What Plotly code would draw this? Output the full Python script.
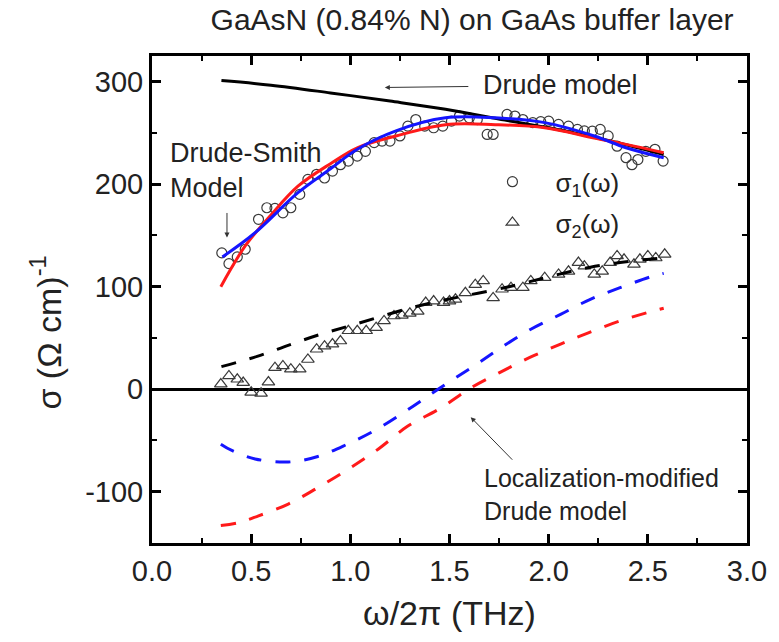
import plotly.graph_objects as go

# ---- data ----
s1_x = [0.352, 0.388, 0.43, 0.47, 0.537, 0.579, 0.62, 0.66, 0.70, 0.745, 0.786, 0.83, 0.87, 0.91,
        0.95, 0.99, 1.035, 1.076, 1.12, 1.16, 1.20, 1.25, 1.29, 1.33, 1.375, 1.42, 1.466, 1.51,
        1.55, 1.60, 1.64, 1.69, 1.72, 1.79, 1.83, 1.87, 1.92, 1.96, 2.00, 2.05, 2.10, 2.145, 2.18,
        2.22, 2.26, 2.30, 2.345, 2.39, 2.42, 2.45, 2.49, 2.536, 2.577]
s1_y = [133, 122.5, 129, 136.5, 165.7, 177, 176.4, 172, 177, 190, 204.7, 209.6, 206, 212.8,
        219, 222.5, 227.4, 232, 240.5, 242, 242, 247, 256.6, 263, 256.6, 255, 256.6, 261.5,
        266.4, 264.7, 263, 248.5, 248.5, 268, 266.4, 263, 260, 261, 261.5, 258.3, 256.6, 253.4, 252,
        251.7, 253.4, 247, 237, 225.8, 219, 224, 232, 234, 222.5]

s2_x = [0.347, 0.388, 0.43, 0.46, 0.50, 0.55, 0.587, 0.62, 0.66, 0.70, 0.745, 0.786, 0.83, 0.87,
        0.91, 0.95, 0.99, 1.035, 1.08, 1.13, 1.17, 1.22, 1.26, 1.30, 1.34, 1.38, 1.42, 1.47, 1.50,
        1.53, 1.58, 1.63, 1.67, 1.72, 1.765, 1.81, 1.87, 1.91, 1.98, 2.05, 2.10, 2.15, 2.18, 2.23,
        2.27, 2.31, 2.345, 2.38, 2.43, 2.46, 2.50, 2.54, 2.585]
s2_y = [5, 13, 9.7, 6.5, -3, -4, 7, 21, 22.7, 19.5, 19.5, 29, 39, 42,
        44, 47, 57, 57, 57, 60, 66.6, 71.4, 72, 74, 76, 84.5, 86, 84.5, 86,
        87.7, 94, 102, 105.6, 89, 97.5, 99, 99, 105.6, 108.8, 112, 115, 123.5, 120, 112,
        115, 123.5, 130, 126.7, 121.8, 126.7, 130, 128, 131.6]

drude1_x = [0.35, 0.6, 0.9, 1.2, 1.48, 1.78, 2.0, 2.2, 2.4, 2.58]
drude1_y = [301, 296.5, 289, 281, 273, 262.5, 255, 247, 238, 229]

drude2_x = [0.35, 0.53, 0.69, 0.84, 1.0, 1.28, 1.45, 1.8, 2.05, 2.21, 2.36, 2.52, 2.58]
drude2_y = [22, 32, 43, 53, 62, 78, 86, 100, 112, 119, 123.5, 127, 128]

blue1_x = [0.355, 0.52, 0.736, 0.9, 1.035, 1.23, 1.48, 1.73, 1.98, 2.23, 2.39, 2.58]
blue1_y = [129, 152.7, 191.7, 215, 234, 252, 264.7, 264.7, 260, 247, 235.5, 225.8]

red1_x = [0.347, 0.47, 0.6, 0.736, 0.9, 1.035, 1.23, 1.48, 1.73, 1.98, 2.23, 2.39, 2.58]
red1_y = [100, 139.7, 170, 198, 220, 235.5, 247, 258, 258, 255, 245, 238.8, 230.7]

blue2_x = [0.347, 0.405, 0.52, 0.687, 0.836, 0.985, 1.134, 1.29, 1.45, 1.61, 1.76, 1.91, 2.06, 2.21, 2.36, 2.52, 2.58]
blue2_y = [-53.6, -60, -68, -71, -65.6, -53.6, -39, -20, 1, 21, 40.6, 58.5, 73, 87.7, 99, 110, 113]

red2_x = [0.347, 0.44, 0.537, 0.687, 0.836, 0.99, 1.14, 1.29, 1.45, 1.61, 1.75, 1.905, 2.06, 2.20, 2.36, 2.52, 2.58]
red2_y = [-133, -130, -123.5, -112, -96, -78, -58.5, -36, -19, 1.6, 16, 31, 44, 55, 66.6, 76, 79]

y_tickvals = [-100, 0, 100, 200, 300]
y_ticktext = ["-100", "0", "100", "200", "300"]

FONT = "Liberation Sans, Arial, sans-serif"
BLUE = "#1515ff"
RED = "#ff1a1a"
DASH = "15px,14px"

fig = go.Figure()
fig.add_trace(go.Scatter(x=s1_x, y=s1_y, mode="markers", name="σ<sub>1</sub>(ω)",
                         legendgroup="a",
                         marker=dict(symbol="circle-open", size=10, color="#3a3a3a", line=dict(width=1.2))))
fig.add_trace(go.Scatter(x=s2_x, y=s2_y, mode="markers", name="σ<sub>2</sub>(ω)",
                         legendgroup="b",
                         marker=dict(symbol="triangle-up-open", size=11, color="#3a3a3a", line=dict(width=1.2))))
fig.add_trace(go.Scatter(x=drude1_x, y=drude1_y, mode="lines", showlegend=False, line_shape="spline",
                         line=dict(color="black", width=3)))
fig.add_trace(go.Scatter(x=drude2_x, y=drude2_y, mode="lines", showlegend=False, line_shape="spline",
                         line=dict(color="black", width=3, dash=DASH)))
fig.add_trace(go.Scatter(x=red1_x, y=red1_y, mode="lines", showlegend=False, line_shape="spline",
                         line=dict(color=RED, width=3)))
fig.add_trace(go.Scatter(x=red2_x, y=red2_y, mode="lines", showlegend=False, line_shape="spline",
                         line=dict(color=RED, width=3, dash=DASH)))
fig.add_trace(go.Scatter(x=blue1_x, y=blue1_y, mode="lines", showlegend=False, line_shape="spline",
                         line=dict(color=BLUE, width=3)))
fig.add_trace(go.Scatter(x=blue2_x, y=blue2_y, mode="lines", showlegend=False, line_shape="spline",
                         line=dict(color=BLUE, width=3, dash=DASH)))

axis_common = dict(showline=True, linewidth=3, linecolor="black", mirror="ticks",
                   ticks="inside", ticklen=9, tickwidth=2.5, tickcolor="black",
                   showgrid=False, tickfont=dict(family=FONT, size=29, color="#222"))

fig.update_xaxes(range=[0, 3], dtick=0.5, tick0=0, tickformat=".1f",
                 minor=dict(ticks="inside", ticklen=5, tickwidth=2, dtick=0.25, tickcolor="black", showgrid=False),
                 zeroline=False,
                 title=dict(text="ω/2π (THz)", font=dict(family=FONT, size=34, color="#222"), standoff=16),
                 **axis_common)
fig.update_yaxes(range=[-150, 325], tickmode="array", tickvals=y_tickvals, ticktext=y_ticktext,
                 minor=dict(ticks="inside", ticklen=5, tickwidth=2, dtick=50, tick0=0, tickcolor="black", showgrid=False),
                 zeroline=True, zerolinecolor="black", zerolinewidth=3,
                 **axis_common)

ann_font = dict(family=FONT, size=27, color="#222")
fig.update_layout(
    width=779, height=642,
    margin=dict(l=152, r=24, t=56, b=99),
    plot_bgcolor="white", paper_bgcolor="white",
    title=dict(text="GaAsN (0.84% N) on GaAs buffer layer", xref="container", x=0.606, xanchor="center",
               y=0.97, yanchor="middle", font=dict(family=FONT, size=30, color="#222")),
    legend=dict(x=0.5335, y=0.79, xanchor="left", yanchor="top", bgcolor="rgba(0,0,0,0)",
                font=dict(family=FONT, size=26, color="#222"), tracegroupgap=4, itemwidth=76),
    annotations=[
        dict(x=-0.179, y=0.433, xref="paper", yref="paper", text="σ (Ω cm)<sup>-1</sup>", textangle=-90,
             showarrow=False, xanchor="center", yanchor="middle",
             font=dict(family=FONT, size=34, color="#222")),
        dict(x=1.174, y=294.3, xref="x", yref="y", text="", showarrow=True, ax=85, ay=-1,
             arrowhead=2, arrowsize=1, arrowwidth=1, arrowcolor="#333"),
        dict(x=1.657, y=297, xref="x", yref="y", text="Drude model", showarrow=False,
             xanchor="left", yanchor="middle", font=ann_font),
        dict(x=0.378, y=148, xref="x", yref="y", text="", showarrow=True, ax=0, ay=-26,
             arrowhead=2, arrowsize=1, arrowwidth=1, arrowcolor="#333"),
        dict(x=0.08, y=213.5, xref="x", yref="y", text="Drude-Smith<br>Model", showarrow=False,
             xanchor="left", yanchor="middle", align="left", font=ann_font),
        dict(x=1.607, y=-27.3, xref="x", yref="y", text="", showarrow=True, ax=43, ay=44,
             arrowhead=2, arrowsize=1, arrowwidth=1, arrowcolor="#333"),
        dict(x=1.662, y=-103, xref="x", yref="y", text="Localization-modified<br>Drude model", showarrow=False,
             xanchor="left", yanchor="middle", align="left", font=dict(family=FONT, size=25, color="#222")),
    ],
)

fig.write_html("out.html")
